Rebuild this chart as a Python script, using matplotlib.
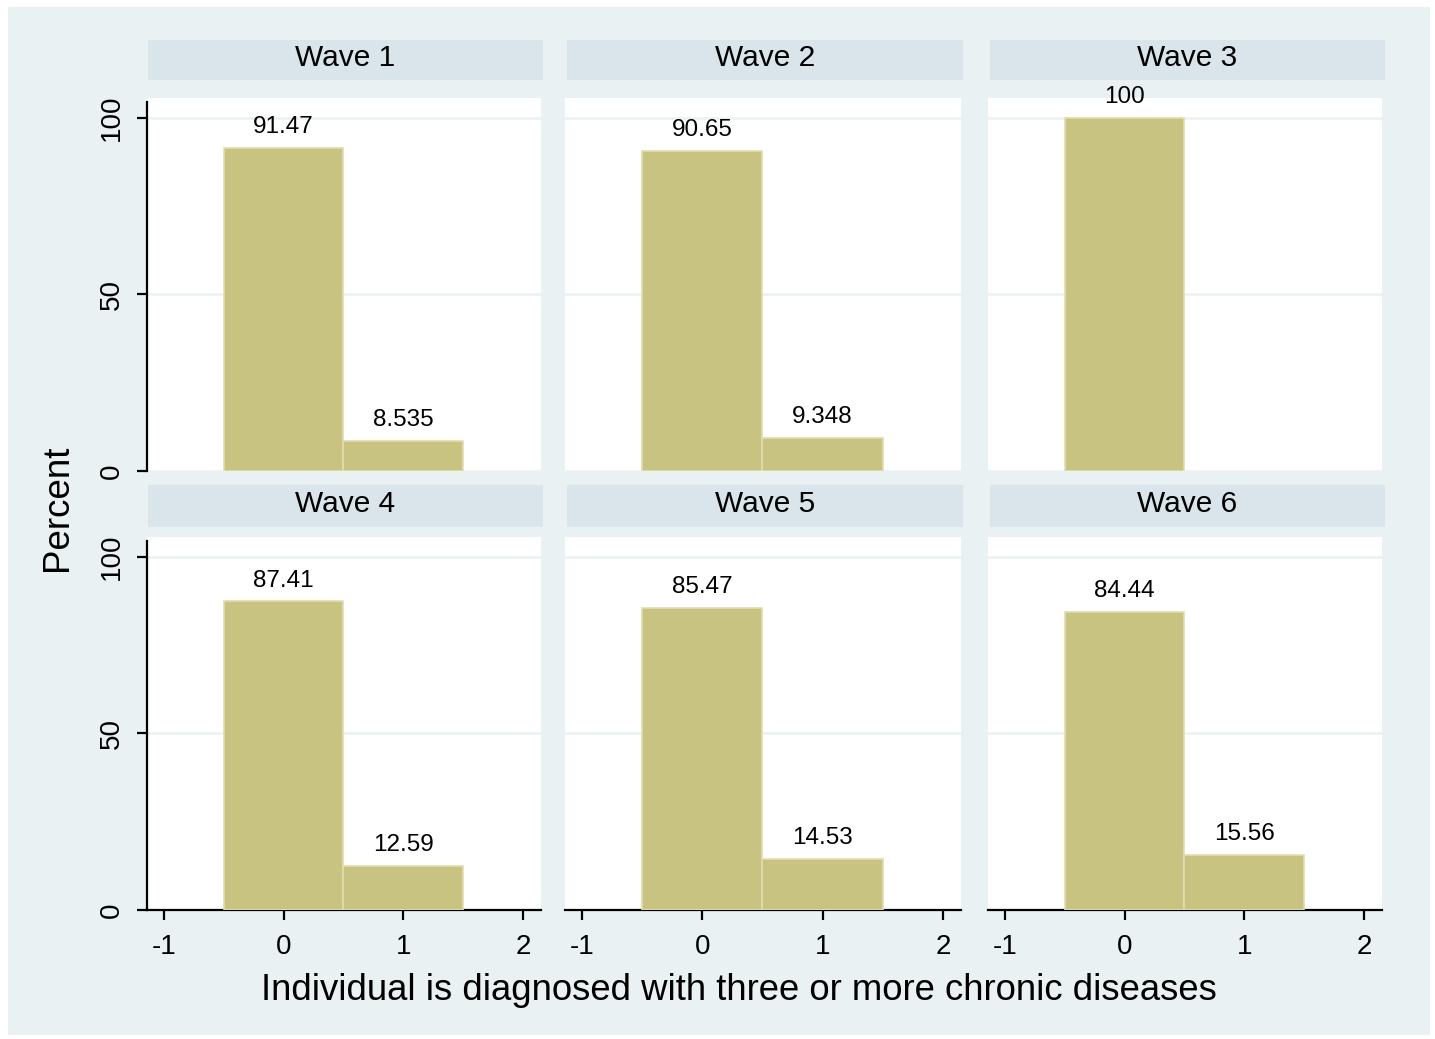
import matplotlib
matplotlib.use("Agg")
import matplotlib.pyplot as plt
from matplotlib.patches import Rectangle

plt.rcParams['font.family'] = ['Liberation Sans', 'DejaVu Sans']

waves = ['Wave 1', 'Wave 2', 'Wave 3', 'Wave 4', 'Wave 5', 'Wave 6']
categories = [0, 1]
pct_no = [91.47, 90.65, 100, 87.41, 85.47, 84.44]
pct_yes = [8.535, 9.348, 0, 12.59, 14.53, 15.56]
xticks = [-1, 0, 1, 2]
yticks = [0, 50, 100]

W, H = 1435, 1039
fig = plt.figure(figsize=(W / 100, H / 100), dpi=100)
fig.patch.set_facecolor('white')

BG = '#EAF1F3'
STRIP = '#D9E5EA'
BAR = '#C9C382'

fig.add_artist(Rectangle((8 / W, 1 - 1035 / H), (1430 - 8) / W, (1035 - 7) / H,
                         transform=fig.transFigure, facecolor=BG, edgecolor='none', zorder=0))

cols = [(147, 541), (565, 961), (988, 1382)]
rows = [(98, 471), (537, 910)]
strips = [(40, 80), (485, 527)]
strip_x = [(148, 543), (567, 963), (990, 1385)]

for i, wave in enumerate(waves):
    r, c = divmod(i, 3)
    x0, x1 = cols[c]
    y0, y1 = rows[r]
    ax = fig.add_axes([x0 / W, 1 - y1 / H, (x1 - x0) / W, (y1 - y0) / H])
    ax.set_facecolor('white')
    vals = [pct_no[i], pct_yes[i]]
    for cat, v in zip(categories, vals):
        if v <= 0:
            continue
        ax.bar(cat, v, width=1.0, color=BAR, edgecolor='#E2DDB0', linewidth=1.2, zorder=3)
        ax.annotate(f"{v:.4g}", (cat, v), xytext=(0, 7), textcoords='offset points',
                    ha='center', va='bottom', fontsize=17.5, color='black',
                    annotation_clip=False, zorder=4)
    ax.set_xlim(-1.14, 2.15)
    ax.set_ylim(0, 105.6)
    for yv in yticks:
        ax.axhline(yv, color=BG, linewidth=1.8, zorder=1)
    for s in ['top', 'right']:
        ax.spines[s].set_visible(False)
    ax.spines['left'].set_visible(c == 0)
    ax.spines['bottom'].set_visible(r == 1)
    ax.spines['left'].set_linewidth(1.6)
    ax.spines['bottom'].set_linewidth(1.6)
    ax.spines['left'].set_bounds(0, 104.5)
    ax.set_yticks(yticks)
    ax.set_xticks(xticks)
    if c == 0:
        ax.tick_params(axis='y', length=7, width=1.6, labelsize=20, pad=9)
        for lab in ax.get_yticklabels():
            lab.set_rotation(90)
            lab.set_va('center')
    else:
        ax.tick_params(axis='y', left=False, labelleft=False)
    if r == 1:
        ax.tick_params(axis='x', length=7, width=1.6, labelsize=20, pad=10)
        ax.set_xticklabels([str(t) for t in xticks])
    else:
        ax.tick_params(axis='x', bottom=False, labelbottom=False)
    # strip
    sx0, sx1 = strip_x[c]
    sy0, sy1 = strips[r]
    fig.add_artist(Rectangle((sx0 / W, 1 - sy1 / H), (sx1 - sx0) / W, (sy1 - sy0) / H,
                             transform=fig.transFigure, facecolor=STRIP, edgecolor='none', zorder=1))
    fig.text((sx0 + sx1) / 2 / W, 1 - ((sy0 + sy1) / 2 - 2) / H, wave, ha='center', va='center',
             fontsize=21.5, color='black')

fig.text(57 / W, 1 - 508 / H, 'Percent', rotation=90, ha='center', va='center', fontsize=26.5)
fig.text(739 / W, 1 - 990 / H, 'Individual is diagnosed with three or more chronic diseases',
         ha='center', va='center', fontsize=26.3)

fig.savefig('out.png', dpi=100)
